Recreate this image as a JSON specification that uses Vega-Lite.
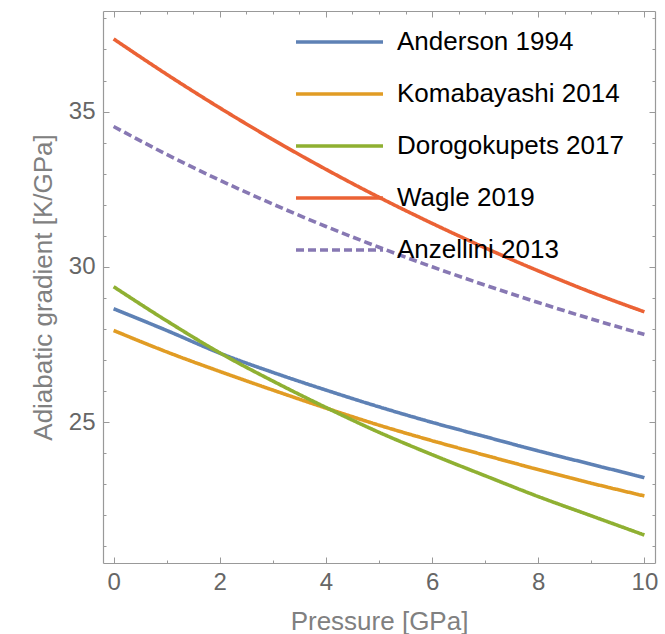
{
  "$schema": "https://vega.github.io/schema/vega-lite/v6.json",
  "width": 552,
  "height": 552,
  "autosize": {"type": "none"},
  "padding": {"left": 103, "top": 11, "right": 10, "bottom": 71},
  "background": "white",
  "config": {"view": {"stroke": null}, "font": "Liberation Sans"},
  "data": {"values": [
    {"series": "Anderson 1994", "P": 0, "G": 28.65},
    {"series": "Anderson 1994", "P": 1, "G": 27.95},
    {"series": "Anderson 1994", "P": 2, "G": 27.22},
    {"series": "Anderson 1994", "P": 3, "G": 26.6},
    {"series": "Anderson 1994", "P": 4, "G": 26.03},
    {"series": "Anderson 1994", "P": 5, "G": 25.49},
    {"series": "Anderson 1994", "P": 6, "G": 24.99},
    {"series": "Anderson 1994", "P": 7, "G": 24.53},
    {"series": "Anderson 1994", "P": 8, "G": 24.07},
    {"series": "Anderson 1994", "P": 9, "G": 23.64},
    {"series": "Anderson 1994", "P": 10, "G": 23.21},
    {"series": "Komabayashi 2014", "P": 0, "G": 27.95},
    {"series": "Komabayashi 2014", "P": 1, "G": 27.26},
    {"series": "Komabayashi 2014", "P": 2, "G": 26.63},
    {"series": "Komabayashi 2014", "P": 3, "G": 26.03},
    {"series": "Komabayashi 2014", "P": 4, "G": 25.45},
    {"series": "Komabayashi 2014", "P": 5, "G": 24.9},
    {"series": "Komabayashi 2014", "P": 6, "G": 24.4},
    {"series": "Komabayashi 2014", "P": 7, "G": 23.93},
    {"series": "Komabayashi 2014", "P": 8, "G": 23.47},
    {"series": "Komabayashi 2014", "P": 9, "G": 23.03},
    {"series": "Komabayashi 2014", "P": 10, "G": 22.62},
    {"series": "Dorogokupets 2017", "P": 0, "G": 29.36},
    {"series": "Dorogokupets 2017", "P": 1, "G": 28.26},
    {"series": "Dorogokupets 2017", "P": 2, "G": 27.23},
    {"series": "Dorogokupets 2017", "P": 3, "G": 26.32},
    {"series": "Dorogokupets 2017", "P": 4, "G": 25.47},
    {"series": "Dorogokupets 2017", "P": 5, "G": 24.67},
    {"series": "Dorogokupets 2017", "P": 6, "G": 23.95},
    {"series": "Dorogokupets 2017", "P": 7, "G": 23.27},
    {"series": "Dorogokupets 2017", "P": 8, "G": 22.6},
    {"series": "Dorogokupets 2017", "P": 9, "G": 21.98},
    {"series": "Dorogokupets 2017", "P": 10, "G": 21.36},
    {"series": "Wagle 2019", "P": 0, "G": 37.34},
    {"series": "Wagle 2019", "P": 1, "G": 36.2},
    {"series": "Wagle 2019", "P": 2, "G": 35.12},
    {"series": "Wagle 2019", "P": 3, "G": 34.1},
    {"series": "Wagle 2019", "P": 4, "G": 33.14},
    {"series": "Wagle 2019", "P": 5, "G": 32.24},
    {"series": "Wagle 2019", "P": 6, "G": 31.4},
    {"series": "Wagle 2019", "P": 7, "G": 30.61},
    {"series": "Wagle 2019", "P": 8, "G": 29.87},
    {"series": "Wagle 2019", "P": 9, "G": 29.18},
    {"series": "Wagle 2019", "P": 10, "G": 28.55},
    {"series": "Anzellini 2013", "P": 0, "G": 34.52},
    {"series": "Anzellini 2013", "P": 1, "G": 33.62},
    {"series": "Anzellini 2013", "P": 2, "G": 32.79},
    {"series": "Anzellini 2013", "P": 3, "G": 32.02},
    {"series": "Anzellini 2013", "P": 4, "G": 31.3},
    {"series": "Anzellini 2013", "P": 5, "G": 30.63},
    {"series": "Anzellini 2013", "P": 6, "G": 30.0},
    {"series": "Anzellini 2013", "P": 7, "G": 29.41},
    {"series": "Anzellini 2013", "P": 8, "G": 28.85},
    {"series": "Anzellini 2013", "P": 9, "G": 28.32},
    {"series": "Anzellini 2013", "P": 10, "G": 27.82}
  ]},
  "layer": [
    {
      "mark": {"type": "line", "interpolate": "monotone", "clip": true},
      "encoding": {
        "x": {
          "field": "P", "type": "quantitative",
          "scale": {"domain": [-0.2, 10.2], "nice": false, "zero": false},
          "axis": {
            "orient": "bottom",
            "values": [0,0.5,1,1.5,2,2.5,3,3.5,4,4.5,5,5.5,6,6.5,7,7.5,8,8.5,9,9.5,10],
            "format": "d",
            "labelExpr": "datum.value % 2 === 0 ? datum.label : ''",
            "tickSize": {"condition": {"test": "datum.value % 2 === 0", "value": -6}, "value": -3},
            "grid": false,
            "domainColor": "#999999", "tickColor": "#999999", "domainWidth": 1.2, "tickWidth": 1,
            "labelFontSize": 24, "labelColor": "#666666", "labelPadding": 13,
            "labelFlush": false, "labelOverlap": false,
            "title": "Pressure [GPa]", "titleFontSize": 26, "titleFontWeight": "normal",
            "titleColor": "#808080", "titlePadding": 11
          }
        },
        "y": {
          "field": "G", "type": "quantitative",
          "scale": {"domain": [20.46, 38.24], "nice": false, "zero": false},
          "axis": {
            "orient": "left",
            "values": [21,22,23,24,25,26,27,28,29,30,31,32,33,34,35,36,37,38],
            "format": "d",
            "labelExpr": "datum.value % 5 === 0 ? datum.label : ''",
            "tickSize": {"condition": {"test": "datum.value % 5 === 0", "value": -6}, "value": -3},
            "grid": false,
            "domainColor": "#999999", "tickColor": "#999999", "domainWidth": 1.2, "tickWidth": 1,
            "labelFontSize": 24, "labelColor": "#666666", "labelPadding": 14,
            "labelFlush": false, "labelOverlap": false,
            "title": "Adiabatic gradient [K/GPa]", "titleFontSize": 26, "titleFontWeight": "normal",
            "titleColor": "#808080", "titlePadding": 12
          }
        },
        "color": {
          "field": "series", "type": "nominal",
          "scale": {
            "domain": ["Anderson 1994", "Komabayashi 2014", "Dorogokupets 2017", "Wagle 2019", "Anzellini 2013"],
            "range": ["#5E81B5", "#E19C24", "#8FB032", "#EB6235", "#8778B3"]
          },
          "legend": {
            "orient": "none", "legendX": 191, "legendY": 18, "title": null,
            "symbolType": "stroke", "symbolSize": 7569,
            "clipHeight": 26, "rowPadding": 26, "padding": 0,
            "labelFontSize": 26, "labelColor": "black", "labelOffset": 12, "labelLimit": 400
          }
        },
        "strokeDash": {
          "field": "series", "type": "nominal",
          "scale": {
            "domain": ["Anderson 1994", "Komabayashi 2014", "Dorogokupets 2017", "Wagle 2019", "Anzellini 2013"],
            "range": [[1, 0], [1, 0], [1, 0], [1, 0], [8, 4]]
          },
          "legend": {
            "orient": "none", "legendX": 191, "legendY": 18, "title": null,
            "symbolType": "stroke", "symbolSize": 7569,
            "clipHeight": 26, "rowPadding": 26, "padding": 0,
            "labelFontSize": 26, "labelColor": "black", "labelOffset": 12, "labelLimit": 400
          }
        },
        "strokeWidth": {
          "field": "series", "type": "nominal",
          "scale": {
            "domain": ["Anderson 1994", "Komabayashi 2014", "Dorogokupets 2017", "Wagle 2019", "Anzellini 2013"],
            "range": [3.6, 3.6, 3.6, 3.6, 4.6]
          },
          "legend": {
            "orient": "none", "legendX": 191, "legendY": 18, "title": null,
            "symbolType": "stroke", "symbolSize": 7569,
            "clipHeight": 26, "rowPadding": 26, "padding": 0,
            "labelFontSize": 26, "labelColor": "black", "labelOffset": 12, "labelLimit": 400
          }
        }
      }
    },
    {
      "mark": {"type": "point", "opacity": 0},
      "encoding": {
        "x": {
          "field": "P", "type": "quantitative",
          "axis": {
            "orient": "top",
            "values": [0,0.5,1,1.5,2,2.5,3,3.5,4,4.5,5,5.5,6,6.5,7,7.5,8,8.5,9,9.5,10],
            "labels": false, "title": null, "grid": false,
            "tickSize": {"condition": {"test": "datum.value % 2 === 0", "value": -6}, "value": -3},
            "domainColor": "#999999", "tickColor": "#999999", "domainWidth": 1.2, "tickWidth": 1
          }
        },
        "y": {
          "field": "G", "type": "quantitative",
          "axis": {
            "orient": "right",
            "values": [21,22,23,24,25,26,27,28,29,30,31,32,33,34,35,36,37,38],
            "labels": false, "title": null, "grid": false,
            "tickSize": {"condition": {"test": "datum.value % 5 === 0", "value": -6}, "value": -3},
            "domainColor": "#999999", "tickColor": "#999999", "domainWidth": 1.2, "tickWidth": 1
          }
        }
      }
    }
  ],
  "resolve": {"axis": {"x": "independent", "y": "independent"}}
}
